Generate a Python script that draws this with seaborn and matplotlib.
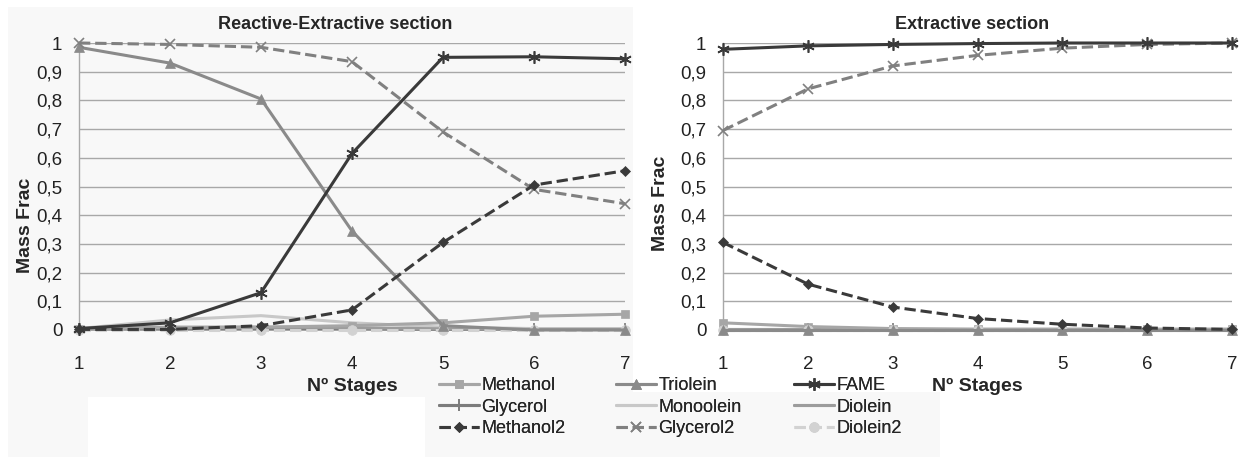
import matplotlib
matplotlib.use("Agg")
import matplotlib.pyplot as plt
from matplotlib.patches import Rectangle
import seaborn as sns

# Stages on the x axis
stages = [1, 2, 3, 4, 5, 6, 7]

# Reactive-Extractive section (left panel)
rx_methanol = [0.005, 0.008, 0.010, 0.015, 0.025, 0.048, 0.055]
rx_triolein = [0.985, 0.930, 0.805, 0.345, 0.015, 0.0, 0.0]
rx_fame = [0.005, 0.025, 0.130, 0.615, 0.950, 0.952, 0.945]
rx_glycerol = [0.003, 0.003, 0.003, 0.003, 0.002, 0.002, 0.002]
rx_monoolein = [0.005, 0.035, 0.050, 0.025, 0.010, 0.005, 0.005]
rx_diolein = [0.005, 0.010, 0.010, 0.008, 0.004, 0.002, 0.002]
rx_methanol2 = [0.002, 0.002, 0.015, 0.070, 0.305, 0.505, 0.555]
rx_glycerol2 = [1.000, 0.995, 0.985, 0.935, 0.690, 0.490, 0.440]
rx_diolein2 = [0.0, 0.0, 0.0, 0.0, 0.0, 0.0, 0.0]

# Extractive section (right panel)
ex_methanol = [0.025, 0.012, 0.005, 0.003, 0.003, 0.003, 0.003]
ex_triolein = [0.0, 0.0, 0.0, 0.0, 0.0, 0.0, 0.0]
ex_fame = [0.978, 0.990, 0.995, 0.998, 1.000, 1.000, 1.000]
ex_glycerol = [0.002, 0.002, 0.002, 0.002, 0.002, 0.002, 0.002]
ex_monoolein = [0.0, 0.0, 0.0, 0.0, 0.0, 0.0, 0.0]
ex_diolein = [0.003, 0.003, 0.003, 0.003, 0.003, 0.003, 0.003]
ex_methanol2 = [0.305, 0.160, 0.080, 0.040, 0.020, 0.007, 0.002]
ex_glycerol2 = [0.695, 0.840, 0.920, 0.957, 0.982, 0.995, 1.000]
ex_diolein2 = [0.0, 0.0, 0.0, 0.0, 0.0, 0.0, 0.0]

series_names = ["Methanol", "Triolein", "FAME", "Glycerol", "Monoolein",
                "Diolein", "Methanol2", "Glycerol2", "Diolein2"]
y_ticks = [0, 0.1, 0.2, 0.3, 0.4, 0.5, 0.6, 0.7, 0.8, 0.9, 1]
y_tick_labels = ["0", "0,1", "0,2", "0,3", "0,4", "0,5", "0,6", "0,7", "0,8", "0,9", "1"]

left_data = [rx_methanol, rx_triolein, rx_fame, rx_glycerol, rx_monoolein,
             rx_diolein, rx_methanol2, rx_glycerol2, rx_diolein2]
right_data = [ex_methanol, ex_triolein, ex_fame, ex_glycerol, ex_monoolein,
              ex_diolein, ex_methanol2, ex_glycerol2, ex_diolein2]

# style per series
styles = {
    "Methanol": dict(color="#a6a6a6", marker="s", linestyle="-", markersize=6, z=4),
    "Triolein": dict(color="#8a8a8a", marker="^", linestyle="-", markersize=7, z=5),
    "FAME": dict(color="#3a3a3a", marker=(6, 2, 0), linestyle="-", markersize=9, z=6),
    "Glycerol": dict(color="#7c7c7c", marker="|", linestyle="-", markersize=8, z=3),
    "Monoolein": dict(color="#c8c8c8", marker="", linestyle="-", markersize=0, z=3),
    "Diolein": dict(color="#9c9c9c", marker="", linestyle="-", markersize=0, z=3),
    "Methanol2": dict(color="#3a3a3a", marker="D", linestyle="--", markersize=5, z=6),
    "Glycerol2": dict(color="#808080", marker="x", linestyle="--", markersize=7, z=5),
    "Diolein2": dict(color="#d2d2d2", marker="o", linestyle="--", markersize=7, z=4),
}

sns.set_theme(style="white")
plt.rcParams['font.family'] = ['Liberation Sans', 'DejaVu Sans']

fig = plt.figure(figsize=(12.39, 4.57), dpi=100)
W, H = 1239, 457


def px_rect(x0, y0, x1, y1, color):
    # rectangle given in pixel coords from top-left
    fig.patches.append(Rectangle((x0 / W, 1 - y1 / H), (x1 - x0) / W, (y1 - y0) / H,
                                 transform=fig.transFigure, facecolor=color,
                                 edgecolor="none", zorder=-10))


# light grey backgrounds like the original screenshot
px_rect(8, 7, 633, 397, "#f8f8f8")
px_rect(8, 397, 88, 457, "#f8f8f8")
px_rect(425, 392, 940, 457, "#f8f8f8")

ax_l = fig.add_axes([79 / W, 127 / H, 546 / W, 287 / H])
ax_r = fig.add_axes([723 / W, 127 / H, 509 / W, 287 / H])
ax_l.set_facecolor("none")
ax_r.set_facecolor("white")


def draw(ax, data, title, title_x, ylab_xy):
    for name, vals in zip(series_names, data):
        st = styles[name]
        sns.lineplot(x=stages, y=vals, ax=ax, color=st["color"], marker=st["marker"] or None,
                     linestyle=st["linestyle"], linewidth=2.2, markersize=st["markersize"],
                     markeredgecolor=st["color"],
                     markeredgewidth=1.2 if name in ("FAME", "Glycerol2", "Glycerol") else 0.5,
                     label=name, zorder=st["z"], errorbar=None, legend=False)
    ax.set_xlim(1, 7)
    ax.set_ylim(0, 1)
    ax.set_xticks(stages)
    ax.set_yticks(y_ticks)
    ax.set_yticklabels(y_tick_labels)
    ax.grid(axis="y", color="#a8a8a8", linewidth=1)
    ax.set_axisbelow(True)
    for s in ["top", "right", "bottom"]:
        ax.spines[s].set_visible(False)
    ax.spines["left"].set_color("#a8a8a8")
    ax.spines["left"].set_linewidth(1)
    ax.tick_params(axis="x", length=0, pad=19, labelsize=13.5, colors="#222222")
    ax.tick_params(axis="y", length=0, pad=12, labelsize=13.5, colors="#222222")
    ax.set_title(title, fontsize=13, fontweight="bold", pad=10, x=title_x)
    ax.set_xlabel("Nº Stages", fontsize=14, fontweight="bold", labelpad=3)
    ax.set_ylabel("Mass Frac", fontsize=14, fontweight="bold")
    ax.yaxis.set_label_coords(*ylab_xy)
    for ln in ax.get_lines():
        ln.set_clip_on(False)


draw(ax_l, left_data, "Reactive-Extractive section", 0.47, (-0.082, 0.366))
draw(ax_r, right_data, "Extractive section", 0.49, (-0.106, 0.443))

# legend as three columns, each placed where the original has it
handles = {ln.get_label(): ln for ln in ax_l.get_lines() if ln.get_label() in series_names}
legend_cols = [["Methanol", "Glycerol", "Methanol2"],
               ["Triolein", "Monoolein", "Glycerol2"],
               ["FAME", "Diolein", "Diolein2"]]
col_x = [439, 616, 794]
for names, x0 in zip(legend_cols, col_x):
    leg = fig.legend([handles[n] for n in names], names, ncol=1, frameon=False,
                     loc="center left", bbox_to_anchor=(x0 / W, 1 - 407 / H),
                     fontsize=13, handlelength=2.2, handletextpad=0.15,
                     labelspacing=0.25, borderaxespad=0, borderpad=0)
    fig.add_artist(leg)

fig.savefig("out.png", dpi=100)
